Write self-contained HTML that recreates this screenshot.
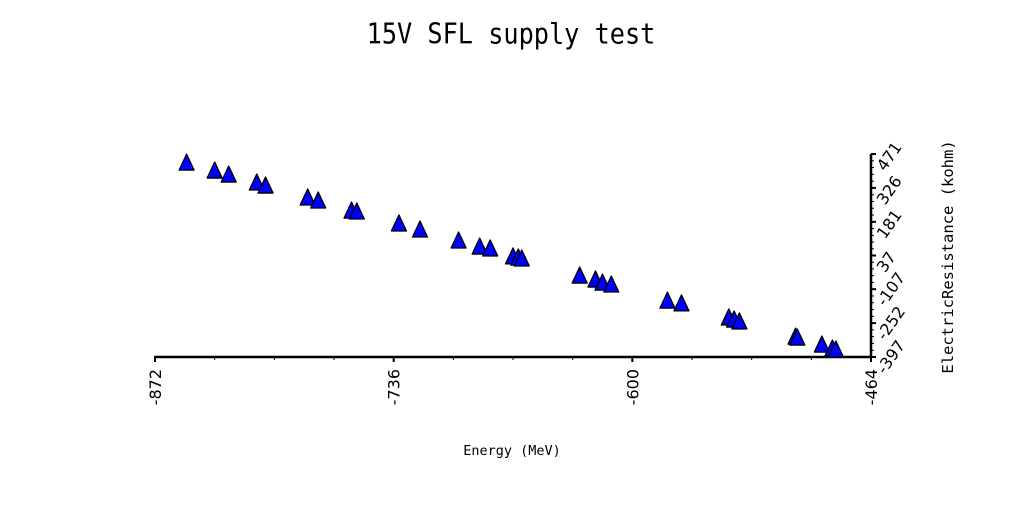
<!DOCTYPE html>
<html><head><meta charset="utf-8"><style>
html,body{margin:0;padding:0;background:#fff;width:1024px;height:512px;overflow:hidden}
</style></head><body>
<svg id="chart" width="1024" height="512" xmlns="http://www.w3.org/2000/svg">
<text x="511" y="44" text-anchor="middle" font-family="DejaVu Sans Mono, Liberation Mono, monospace" font-size="25" transform="translate(511,0) scale(1.01,1.15) translate(-511,-6)">15V SFL supply test</text>
<text x="512" y="455" text-anchor="middle" font-family="DejaVu Sans Mono, Liberation Mono, monospace" font-size="13.5">Energy (MeV)</text>
<text transform="translate(953,257) rotate(-90)" text-anchor="middle" font-family="DejaVu Sans Mono, Liberation Mono, monospace" font-size="15.5">ElectricResistance (kohm)</text>
<g id="axes"></g>
<g id="marks"></g>
</svg>
<script>
const xTicks = [-872, -736, -600, -464];
const yTicks = [471, 326, 181, 37, -107, -252, -397];
const xValues = [-854,-838,-830,-814,-809,-785,-779,-760,-757,-733,-721,-699,-687,-681,-668,-665,-663,-630,-621,-617,-612,-580,-572,-545,-542,-539,-507,-506,-492,-486,-484];
const yValues = [432,398,381,347,334,283,270,227,223,172,146,99,73,65,31,26,22,-51,-68,-81,-89,-158,-170,-230,-239,-247,-312,-316,-346,-363,-367];

const X0=155,X1=871,Y0=357,Y1=154;
const xMin=-872,xMax=-464,yMin=-397,yMax=471;
const sx=v=>X0+(v-xMin)/(xMax-xMin)*(X1-X0);
const sy=v=>Y0-(v-yMin)/(yMax-yMin)*(Y0-Y1);
const NS='http://www.w3.org/2000/svg';
const axes=document.getElementById('axes'), marks=document.getElementById('marks');
function mk(tag,attrs,parent){const e=document.createElementNS(NS,tag);for(const k in attrs)e.setAttribute(k,attrs[k]);parent.appendChild(e);return e;}

const xl=mk('line',{x1:X0-1,y1:Y0,x2:X1+1,y2:Y0,stroke:'#000','stroke-width':2.5},axes);


const yl=mk('line',{x1:X1,y1:Y0,x2:X1,y2:Y1,stroke:'#000','stroke-width':2.5},axes);



for(let i=0;i<xTicks.length;i++){
  const x=sx(xTicks[i]);
  const t=mk('line',{x1:x,y1:Y0,x2:x,y2:Y0+5,stroke:'#000','stroke-width':2},axes);
  
  
  if(i<xTicks.length-1){
    for(let j=1;j<4;j++){
      const mx=sx(xTicks[i]+(xTicks[i+1]-xTicks[i])*j/4);
      const m=mk('line',{x1:mx,y1:Y0,x2:mx,y2:Y0+3,stroke:'#000','stroke-width':1},axes);
      
      
    }
  }
  const lb=mk('text',{transform:`translate(${x+6},${Y0+12}) rotate(-90)`,'text-anchor':'end','font-family':'DejaVu Sans, Liberation Sans, sans-serif','font-size':16},axes);
  lb.textContent=xTicks[i];
  
  
}
for(let i=0;i<yTicks.length;i++){
  const y=sy(yTicks[i]);
  const t=mk('line',{x1:X1,y1:y,x2:X1+5,y2:y,stroke:'#000','stroke-width':2},axes);
  
  
  if(i<yTicks.length-1){
    for(let j=1;j<5;j++){
      const my=sy(yTicks[i]+(yTicks[i+1]-yTicks[i])*j/5);
      const m=mk('line',{x1:X1,y1:my,x2:X1+3,y2:my,stroke:'#000','stroke-width':1},axes);
      
      
    }
  }
  const lb=mk('text',{transform:`translate(${X1+14},${y+18}) rotate(-55)`,'text-anchor':'start','font-family':'DejaVu Sans, Liberation Sans, sans-serif','font-size':16},axes);
  lb.textContent=yTicks[i];
  
  
}
for(let i=0;i<xValues.length;i++){
  const cx=sx(xValues[i]), cy=sy(yValues[i]);
  const p=mk('polygon',{points:`${cx},${cy-9} ${cx-7.5},${cy+7} ${cx+7.5},${cy+7}`,fill:'#0000ff',stroke:'#000','stroke-width':1.3,'stroke-linejoin':'round'},marks);
  
  
}
</script>
</body></html>
